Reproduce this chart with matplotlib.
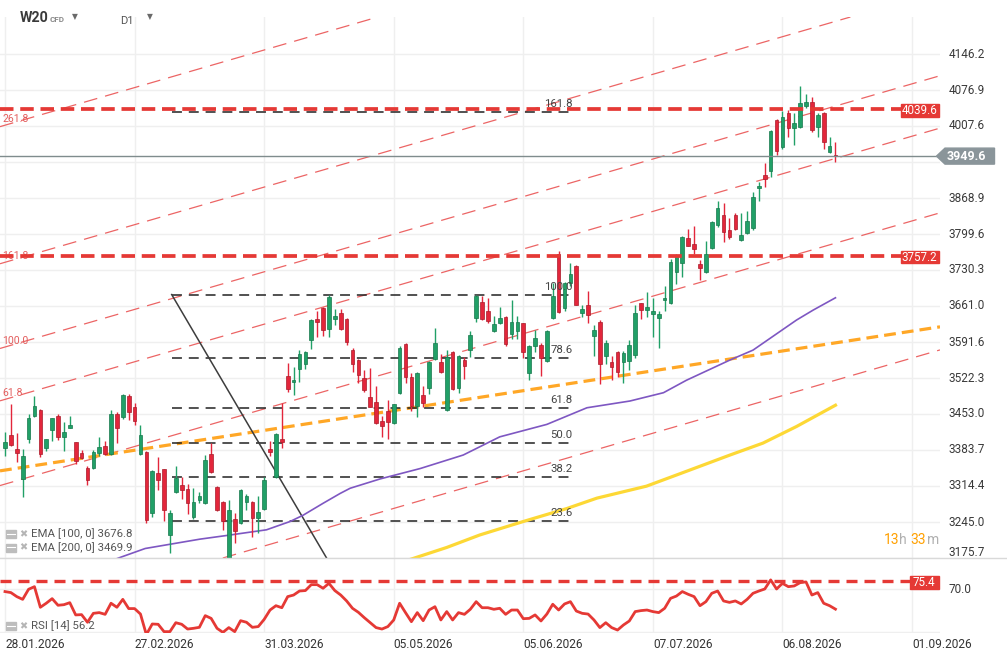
import numpy as np
import matplotlib.pyplot as plt
from matplotlib.patches import Rectangle, Polygon
from matplotlib.lines import Line2D

plt.rcParams['font.family'] = ['Roboto', 'DejaVu Sans']

W, H = 1007, 659

# daily candles W20, index 0 = 28.01.2026
opens = [3388, 3413, 3386, 3327, 3405, 3450, 3461, 3388, 3422, 3449, 3409, 3427, 3399, 3377, 3349, 3349,
         3377, 3391, 3376, 3453, 3447, 3488, 3467, 3376, 3380, 3262, 3339, 3347, 3220, 3302, 3316, 3309,
         3255, 3287, 3281, 3376, 3312, 3284, 3160, 3250, 3244, 3284, 3284, 3253, 3270, 3386, 3331, 3405,
         3526, 3514, 3539, 3549, 3596, 3636, 3658, 3616, 3635, 3647, 3635, 3576, 3557, 3522, 3485, 3477,
         3440, 3458, 3435, 3493, 3587, 3524, 3469, 3490, 3504, 3559, 3553, 3461, 3573, 3503, 3557, 3576,
         3637, 3669, 3651, 3613, 3628, 3639, 3607, 3612, 3628, 3531, 3583, 3586, 3556, 3637, 3762, 3658,
         3706, 3738, 3647, 3663, 3604, 3630, 3565, 3553, 3572, 3554, 3556, 3567, 3666, 3653, 3645, 3637,
         3673, 3666, 3726, 3743, 3791, 3780, 3742, 3727, 3772, 3816, 3836, 3807, 3836, 3788, 3801, 3811,
         3888, 3913, 3920, 4019, 3968, 4032, 4003, 4005, 4047, 4053, 4006, 4033, 3957, 3952]
highs = [3419, 3472, 3417, 3386, 3453, 3488, 3463, 3405, 3446, 3453, 3437, 3450, 3400, 3384, 3353, 3384,
         3409, 3401, 3461, 3456, 3491, 3491, 3474, 3432, 3382, 3345, 3371, 3348, 3268, 3352, 3332, 3319,
         3310, 3303, 3374, 3398, 3314, 3286, 3287, 3263, 3308, 3298, 3285, 3295, 3331, 3401, 3416, 3474,
         3551, 3543, 3576, 3575, 3636, 3651, 3660, 3683, 3655, 3655, 3637, 3581, 3558, 3538, 3541, 3506,
         3449, 3480, 3473, 3583, 3589, 3531, 3533, 3506, 3555, 3618, 3569, 3576, 3575, 3566, 3563, 3612,
         3682, 3680, 3676, 3642, 3660, 3642, 3673, 3642, 3629, 3585, 3615, 3590, 3614, 3705, 3766, 3708,
         3743, 3740, 3663, 3690, 3624, 3634, 3596, 3565, 3575, 3575, 3596, 3663, 3667, 3687, 3676, 3651,
         3700, 3751, 3762, 3796, 3809, 3815, 3750, 3786, 3825, 3864, 3859, 3830, 3840, 3841, 3843, 3880,
         3900, 3936, 3999, 4021, 4037, 4038, 4032, 4085, 4069, 4064, 4032, 4034, 3987, 3977]
lows = [3372, 3391, 3361, 3294, 3398, 3448, 3371, 3381, 3401, 3403, 3382, 3426, 3357, 3366, 3317, 3347,
        3372, 3374, 3374, 3397, 3443, 3442, 3431, 3374, 3244, 3254, 3307, 3247, 3185, 3300, 3290, 3261,
        3250, 3282, 3280, 3339, 3267, 3230, 3150, 3205, 3242, 3268, 3216, 3224, 3268, 3373, 3329, 3387,
        3496, 3490, 3515, 3539, 3578, 3602, 3604, 3602, 3624, 3614, 3585, 3533, 3512, 3496, 3466, 3434,
        3408, 3404, 3434, 3491, 3513, 3459, 3448, 3467, 3492, 3557, 3531, 3459, 3499, 3493, 3520, 3563,
        3631, 3634, 3629, 3611, 3626, 3584, 3597, 3597, 3560, 3519, 3572, 3527, 3554, 3636, 3647, 3652,
        3700, 3662, 3640, 3628, 3565, 3511, 3549, 3519, 3524, 3513, 3538, 3561, 3635, 3640, 3602, 3580,
        3652, 3665, 3703, 3717, 3776, 3761, 3712, 3725, 3770, 3814, 3785, 3790, 3807, 3787, 3800, 3807,
        3864, 3891, 3910, 3952, 3963, 3986, 3971, 4004, 4042, 3997, 3987, 3963, 3955, 3939]
closes = [3400, 3393, 3377, 3372, 3445, 3468, 3376, 3404, 3445, 3408, 3418, 3431, 3363, 3369, 3325, 3380,
          3389, 3376, 3453, 3427, 3490, 3456, 3440, 3413, 3248, 3344, 3325, 3268, 3262, 3330, 3307, 3281,
          3284, 3295, 3365, 3341, 3268, 3246, 3268, 3228, 3307, 3295, 3253, 3265, 3326, 3380, 3415, 3400,
          3501, 3519, 3569, 3573, 3634, 3631, 3615, 3678, 3642, 3616, 3592, 3549, 3528, 3499, 3467, 3435,
          3429, 3438, 3472, 3581, 3524, 3469, 3531, 3474, 3554, 3589, 3533, 3563, 3501, 3565, 3545, 3605,
          3681, 3635, 3633, 3626, 3637, 3588, 3631, 3631, 3572, 3584, 3600, 3560, 3613, 3680, 3649, 3705,
          3723, 3663, 3655, 3644, 3615, 3549, 3589, 3544, 3533, 3570, 3586, 3647, 3653, 3660, 3651, 3645,
          3676, 3745, 3757, 3794, 3777, 3770, 3734, 3762, 3823, 3849, 3804, 3794, 3809, 3798, 3825, 3871,
          3892, 3905, 3998, 3959, 4024, 4003, 4013, 4051, 4053, 3999, 4029, 3977, 3970, 3949.6]

rsi = [68.4, 67.7, 64.9, 63.0, 70.0, 71.8, 57.5, 60.3, 63.5, 58.9, 59.3, 60.7, 52.2, 52.4, 47.1, 53.3,
       53.8, 52.6, 60.3, 57.5, 63.0, 56.6, 56.6, 52.8, 38.5, 45.9, 45.7, 40.6, 40.6, 46.8, 45.7, 42.4,
       42.9, 43.6, 51.7, 49.8, 42.9, 40.1, 43.4, 40.6, 48.2, 47.1, 43.6, 44.1, 49.1, 55.6, 58.6, 57.2,
       64.9, 66.0, 68.8, 69.1, 73.2, 73.2, 70.7, 74.1, 69.1, 66.0, 61.9, 56.8, 54.0, 50.3, 46.8, 43.4,
       42.4, 44.1, 48.7, 60.3, 53.8, 47.5, 53.8, 48.2, 55.6, 57.9, 48.7, 54.5, 48.7, 53.8, 52.6, 56.1,
       61.4, 57.2, 57.2, 56.1, 56.8, 52.6, 55.6, 55.6, 49.6, 49.8, 52.2, 48.0, 52.8, 59.6, 55.6, 59.8,
       61.4, 54.9, 53.3, 52.8, 48.7, 43.4, 46.8, 43.4, 41.7, 45.2, 48.0, 54.5, 55.2, 55.6, 54.5, 53.8,
       56.8, 63.7, 65.3, 68.4, 66.5, 64.9, 58.6, 61.4, 67.2, 68.8, 61.9, 60.9, 61.9, 59.8, 63.0, 67.2,
       68.8, 70.2, 76.5, 70.2, 74.1, 71.8, 72.3, 74.6, 75.1, 66.0, 67.7, 60.3, 58.6, 56.2]

ema100_idx = [17.5, 19.6, 23.8, 33.1, 37.6, 44.4, 48.4, 50.6, 54.0, 56.9, 58.6, 63.7, 70.5, 77.8, 84.0,
              92.0, 98.8, 106.1, 111.8, 115.7, 123.1, 127.0, 134.4, 137.2, 141]
ema100_val = [3168, 3177, 3194, 3212, 3219, 3230, 3246, 3258, 3281, 3300, 3310, 3328, 3348, 3374, 3409,
              3433, 3465, 3478, 3494, 3518, 3557, 3576, 3634, 3653, 3676.8]
ema200_idx = [68, 75.0, 80.6, 88.0, 95.4, 100.5, 108.9, 114.6, 123.1, 128.7, 134.4, 141]
ema200_val = [3170, 3196, 3220, 3246, 3271, 3291, 3314, 3338, 3374, 3397, 3429, 3469.9]

date_idx = [0, 22, 44, 66, 88, 110, 132, 154]
date_labels = ['28.01.2026', '27.02.2026', '31.03.2026', '05.05.2026', '05.06.2026',
               '07.07.2026', '06.08.2026', '01.09.2026']
price_ticks = [3175.7, 3245.0, 3314.4, 3383.7, 3453.0, 3522.3, 3591.6, 3661.0, 3730.3, 3799.6,
               3868.9, 3938.3, 4007.6, 4076.9, 4146.2]

resist_levels = [4039.6, 3757.2]
last_price = 3949.6
rsi_level = 75.4
ema100_last, ema200_last, rsi_last = 3676.8, 3469.9, 56.2

# fibonacci channel (two anchors of the 0 line, height of 100 %)
channel_x = [0, 141]
channel_base = [3318, 3782]
channel_range = 264
channel_levels = [-100, 0, 61.8, 100, 161.8, 261.8]
channel_named = [61.8, 100, 161.8, 261.8]

trend_x = [0, 141]
trend_y = [3345, 3590]

fib_x = [28.3, 96.8]
fib_high, fib_low = 3683, 3113
fib_levels = [23.6, 38.2, 50.0, 61.8, 78.6, 100.0, 161.8]
diag_x = [28.3, 57.85]
diag_y = [3683, 3113]

GREEN, GREEN_E = '#21a067', '#16774b'
RED, RED_E = '#e3263b', '#a81c2b'
LINE_RED = '#e53935'
GRID = '#efefef'


def fbox(x0, y0, x1, y1):
    return [x0 / W, 1 - y1 / H, (x1 - x0) / W, (y1 - y0) / H]


fig = plt.figure(figsize=(W / 100, H / 100), dpi=100)
ax = fig.add_axes(fbox(0, 17, 940, 558))
rax = fig.add_axes(fbox(0, 558, 940, 632.5), sharex=ax)

xlim = (-0.85, 158.75)
ax.set_xlim(*xlim)
ax.set_ylim(3175.7, 4217.5)
rax.set_ylim(40.0, 91.7)

for a in (ax, rax):
    for s in a.spines.values():
        s.set_visible(False)
    a.tick_params(left=False, bottom=False, labelleft=False, labelbottom=False)
    for d in date_idx:
        a.axvline(d, color=GRID, lw=1, zorder=0)

for v in price_ticks:
    ax.axhline(v, color=GRID, lw=1, zorder=0)
    if abs(v - last_price) < 20:
        continue  # hidden behind the last-price tag
    dy = 3.6 if v == price_ticks[0] else 0
    ax.annotate(f'{v:.1f}', xy=(1, v), xycoords=('axes fraction', 'data'), xytext=(6, dy),
                textcoords='offset points', ha='left', va='center', fontsize=8.5,
                color='#3a3a3a', annotation_clip=False)

# channel lines
for lvl in channel_levels:
    p0 = (channel_x[0], channel_base[0] + lvl / 100 * channel_range)
    p1 = (channel_x[1], channel_base[1] + lvl / 100 * channel_range)
    ax.axline(p0, p1, color='#ea5454', lw=0.9, dashes=(11, 6.5), alpha=0.9, zorder=2)
    if lvl in channel_named:
        slope = (p1[1] - p0[1]) / (p1[0] - p0[0])
        yl = p0[1] + slope * (xlim[0] - p0[0])
        ax.annotate(f'{lvl:.1f}', xy=(xlim[0], yl), xytext=(1.5, 3.4), textcoords='offset points',
                    ha='left', va='baseline', fontsize=7.6, color='#e35d5d')

# long orange trendline
ax.axline((trend_x[0], trend_y[0]), (trend_x[1], trend_y[1]), color='#ffa726', lw=2.3,
          dashes=(3.7, 1.9), zorder=3)

# fibonacci retracement
for lvl in fib_levels:
    yv = fib_low + lvl / 100 * (fib_high - fib_low)
    ax.plot(fib_x, [yv, yv], color='#222222', lw=1.1, dashes=(6.5, 4.5), zorder=3)
    ax.annotate(f'{lvl:.1f}', xy=(fib_x[1], yv), xytext=(-2, 3.6), textcoords='offset points',
                ha='right', va='baseline', fontsize=8.2, color='#444444', zorder=8)
ax.plot(diag_x, diag_y, color='#3d3d3d', lw=1.1, zorder=3)

# EMAs
ax.plot(ema100_idx, ema100_val, color='#7e57c2', lw=1.2, zorder=4)
ax.plot(ema200_idx, ema200_val, color='#fdd835', lw=2.3, zorder=4)

# candles
o = np.array(opens, float)
c = np.array(closes, float)
hi = np.array(highs, float)
lo = np.array(lows, float)
idx = np.arange(len(o))
up = c >= o
fill = np.where(up, GREEN, RED)
edge = np.where(up, GREEN_E, RED_E)
ax.vlines(idx, lo, hi, colors=fill, lw=1, zorder=5)
body = np.maximum(np.abs(c - o), 2.5)
ax.bar(idx, body, bottom=np.minimum(o, c), width=0.62, color=fill, edgecolor=edge, lw=0.5, zorder=6)

# horizontal levels
for lvl in resist_levels:
    ax.axhline(lvl, color=LINE_RED, lw=2.7, dashes=(3.6, 1.8), zorder=7)
ax.axhline(last_price, color='#7f8c8d', lw=1, zorder=7)

# RSI panel
rax.axhline(70, color=GRID, lw=1, zorder=0)
rax.axhline(40.2, color=GRID, lw=1, zorder=0)
rax.plot(idx, rsi, color=LINE_RED, lw=2, zorder=4)
rax.axhline(rsi_level, color=LINE_RED, lw=2.4, dashes=(3.3, 2.1), zorder=3)
rax.annotate('70.0', xy=(1, 70), xycoords=('axes fraction', 'data'), xytext=(6, 0),
             textcoords='offset points', ha='left', va='center', fontsize=8.5, color='#3a3a3a',
             annotation_clip=False)
for d, lbl in zip(date_idx, date_labels):
    rax.annotate(lbl, xy=(d, 0), xycoords=('data', 'axes fraction'), xytext=(0, -4),
                 textcoords='offset points', ha='left', va='top', fontsize=8.6, color='#333333',
                 annotation_clip=False)

fig.add_artist(Line2D([0, 1], [1 - 558 / H] * 2, color='#d9d9d9', lw=1))


def to_fig_y(a, val):
    return fig.transFigure.inverted().transform(a.transData.transform((0, val)))[1]


def label_box(a, val, txt, x0, x1, color, h=12.5):
    yc = to_fig_y(a, val) - 1.2 / H
    fig.add_artist(Rectangle((x0 / W, yc - h / 2 / H), (x1 - x0) / W, h / H, color=color, zorder=20))
    fig.text((x0 + x1) / 2 / W, yc, txt, ha='center', va='center', fontsize=8.4, color='white',
             zorder=21)


for lvl in resist_levels:
    label_box(ax, lvl, f'{lvl:.1f}', 900.5, 938.5, LINE_RED)
label_box(rax, rsi_level, f'{rsi_level:.1f}', 910, 938.5, LINE_RED)

yc = to_fig_y(ax, last_price)
hh = 8 / H
pts = [(936.5 / W, yc), (945 / W, yc + hh), (994.5 / W, yc + hh), (994.5 / W, yc - hh), (945 / W, yc - hh)]
fig.add_artist(Polygon(pts, closed=True, color='#8a959a', zorder=20))
fig.text(966 / W, yc, f'{last_price:.1f}', ha='center', va='center', fontsize=9, color='white',
         fontweight='bold', zorder=21)

# header
fig.text(20 / W, 1 - 18.5 / H, 'W20', fontsize=10.3, fontweight='bold', color='#3a3a3a', va='center')
fig.text(50 / W, 1 - 19 / H, 'CFD', fontsize=5.8, fontweight='bold', color='#8a8a8a', va='center')
fig.text(120 / W, 1 - 20.5 / H, 'D1', fontsize=8, color='#555555', va='center')
for tx in (75, 150):
    fig.text(tx / W, 1 - 17 / H, '▼', fontsize=5.5, color='#6a6a6a', ha='center', va='center',
             family='DejaVu Sans')

# indicator legends
legends = [(534, f'EMA [100, 0] {ema100_last}'), (547.5, f'EMA [200, 0] {ema200_last}'),
           (626, f'RSI [14] {rsi_last}')]
for ly, txt in legends:
    fig.add_artist(Rectangle((6 / W, 1 - (ly + 4) / H), 10 / W, 8 / H, color='#bdbdbd', zorder=20))
    fig.add_artist(Line2D([7 / W, 15 / W], [1 - (ly - 0.5) / H] * 2, color='white', lw=0.8, zorder=21))
    fig.text(23.5 / W, 1 - ly / H, '✖', fontsize=7, color='#b5b5b5', ha='center', va='center',
             family='DejaVu Sans', zorder=21)
    fig.text(31 / W, 1 - ly / H, txt, fontsize=8.2, color='#555555', va='center', zorder=21)

# candle timer
for tx, part, col in [(884, '13', '#ffa000'), (899, 'h', '#b0b0b0'), (910.5, '33', '#ffa000'),
                      (926.5, 'm', '#b0b0b0')]:
    fig.text(tx / W, 1 - 539.5 / H, part, fontsize=10, color=col, va='center', ha='left')

fig.savefig('out.png', dpi=100)
